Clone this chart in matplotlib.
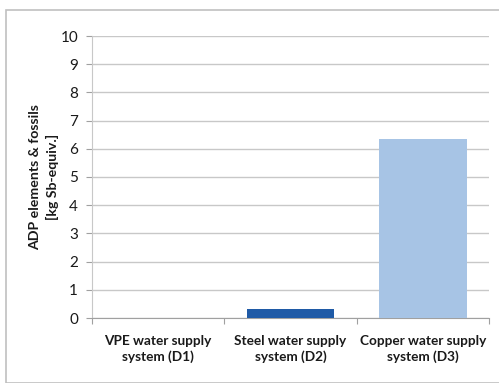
import matplotlib.pyplot as plt
from matplotlib.patches import Rectangle

plt.rcParams["font.family"] = ["Lato", "DejaVu Sans"]

categories = ["VPE water supply\nsystem (D1)",
              "Steel water supply\nsystem (D2)",
              "Copper water supply\nsystem (D3)"]
values = [0.0, 0.32, 6.35]
colors = ["#1f5aa6", "#1f5aa6", "#a7c4e5"]
yticks = list(range(0, 11))

fig = plt.figure(figsize=(4.99, 3.83), dpi=100)
ax = fig.add_axes([92 / 499, 1 - 318 / 383, (489 - 92) / 499, (318 - 36) / 383])

# chart frame around the whole figure
fig.patches.append(Rectangle((6 / 499, 0), 1.0, 1 - 10 / 383, transform=fig.transFigure,
                             fill=False, edgecolor="#c0c0c0", linewidth=1.2))

x = range(len(categories))
ax.bar(x, values, width=0.66, color=colors, zorder=3)

ax.set_xlim(-0.5, len(categories) - 0.5)
ax.set_ylim(0, 10)
ax.set_yticks(yticks)
ax.yaxis.grid(True, color="#c8c8c8", linewidth=1.0, zorder=0)

ax.set_xticks([i - 0.5 for i in range(len(categories) + 1)], minor=False)
ax.set_xticklabels([])
ax.set_xticks(list(x), minor=True)
ax.set_xticklabels(categories, minor=True, fontsize=9.8, fontweight="bold", color="#1a1a1a",
                   linespacing=1.35)
ax.tick_params(axis="x", which="major", length=4, color="#a0a0a0", direction="out")
ax.tick_params(axis="x", which="minor", length=0, pad=12)
ax.tick_params(axis="y", length=4, color="#a0a0a0", labelsize=11, pad=6, labelcolor="#1a1a1a")

for side in ["top", "right"]:
    ax.spines[side].set_visible(False)
ax.spines["left"].set_color("#c8c8c8")
ax.spines["bottom"].set_color("#a0a0a0")

ax.set_ylabel("ADP elements & fossils\n[kg Sb-equiv.]", fontsize=10.2, fontweight="bold",
              color="#1a1a1a", linespacing=1.45)
ax.yaxis.set_label_coords(-0.083, 0.5)

fig.savefig("out.png", dpi=100)
